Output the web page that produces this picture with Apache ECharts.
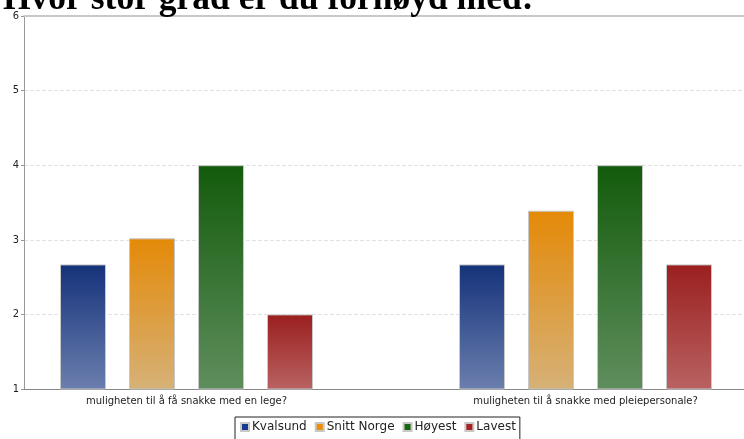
<!DOCTYPE html>
<html>
<head>
<meta charset="utf-8">
<script src="https://cdn.jsdelivr.net/npm/echarts@6/dist/echarts.min.js"></script>
<style>html,body{margin:0;padding:0;background:#fff}#c{width:744px;height:439px}</style>
</head>
<body>
<div id="c"></div>
<script>
var titleText = 'Hvor stor grad er du fornøyd med:';
var categories = ['muligheten til å få snakke med en lege?', 'muligheten til å snakke med pleiepersonale?'];
var seriesNames = ['Kvalsund', 'Snitt Norge', 'Høyest', 'Lavest'];
var kvalsund = [2.67, 2.67];
var snittNorge = [3.02, 3.39];
var hoyest = [4, 4];
var lavest = [2, 2.67];
var yTicks = [1, 2, 3, 4, 5, 6];

var topColors = ['#15327a', '#e48a08', '#135b0c', '#9b1f1f'];
var bottomColors = ['#6b7fae', '#d6b177', '#5f8e5d', '#b96262'];
var legendColors = ['#163a8c', '#ec900c', '#176612', '#a82222'];
var values = [kvalsund, snittNorge, hoyest, lavest];

function grad(i) {
  return new echarts.graphic.LinearGradient(0, 0, 0, 1, [
    {offset: 0, color: topColors[i]}, {offset: 1, color: bottomColors[i]}
  ]);
}

var series = seriesNames.map(function (n, i) {
  return {
    name: n, type: 'bar', xAxisIndex: 0, yAxisIndex: 0,
    data: values[i], barWidth: 46, barGap: '50%',
    itemStyle: {color: grad(i), borderColor: '#c8c8c8', borderWidth: 1},
    emphasis: {disabled: true}
  };
});

var chart = echarts.init(document.getElementById('c'));
chart.setOption({
  animation: false,
  title: {
    text: titleText, left: -2, top: -23,
    textStyle: {fontFamily: 'Liberation Serif', fontWeight: 'bold', fontSize: 35.5, color: '#000'}
  },
  legend: {
    data: seriesNames.map(function (n, i) { return {name: n, itemStyle: {color: legendColors[i]}}; }),
    left: 235, top: 417, icon: 'rect', itemWidth: 8, itemHeight: 8, itemGap: 8,
    padding: [4, 4, 8, 5], borderColor: '#222', borderWidth: 1,
    textStyle: {fontFamily: 'DejaVu Sans', fontSize: 12, color: '#222', padding: [0, 0, 0, -2]}
  },
  grid: [
    {left: -13, width: 798, top: 16, bottom: 50, outerBoundsMode: 'none', containLabel: false},
    {left: 24, right: 0, top: 16, bottom: 50, outerBoundsMode: 'none', containLabel: false}
  ],
  xAxis: [
    {type: 'category', gridIndex: 0, data: categories,
     axisLine: {show: false}, axisTick: {show: false},
     axisLabel: {fontFamily: 'DejaVu Sans', fontSize: 10, color: '#222', margin: 7}},
    {type: 'category', gridIndex: 1, position: 'bottom', data: categories,
     axisLine: {show: true, lineStyle: {color: '#888', width: 1}}, axisTick: {show: false}, axisLabel: {show: false}},
    {type: 'category', gridIndex: 1, position: 'top', data: categories,
     axisLine: {show: true, lineStyle: {color: '#c8c8c8', width: 2}}, axisTick: {show: false}, axisLabel: {show: false}}
  ],
  yAxis: [
    {type: 'value', gridIndex: 0, min: 1, max: 6, interval: 1, show: false, splitLine: {show: false}},
    {type: 'value', gridIndex: 1, min: yTicks[0], max: yTicks[yTicks.length - 1], interval: 1,
     axisLine: {show: true, lineStyle: {color: '#999', width: 1}},
     axisTick: {show: true, length: 3, lineStyle: {color: '#999'}},
     axisLabel: {fontFamily: 'DejaVu Sans Condensed', fontSize: 11, color: '#222', margin: 5},
     splitLine: {show: true, lineStyle: {color: '#e2e2e2', type: 'dashed', width: 1}}}
  ],
  series: series
});
</script>
</body>
</html>
